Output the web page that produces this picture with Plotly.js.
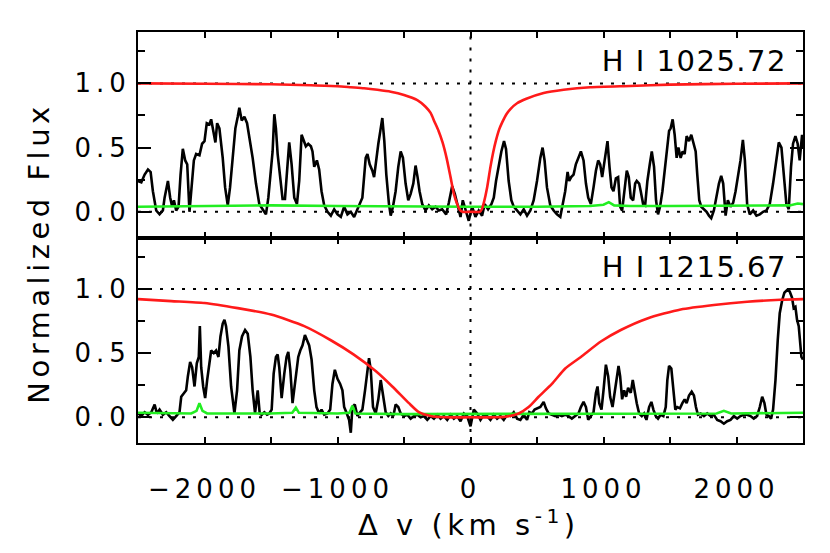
<!DOCTYPE html>
<html>
<head>
<meta charset="utf-8">
<script src="https://cdn.plot.ly/plotly-3.0.1.min.js"></script>
<style>
  body { margin: 0; background: #fff; }
  #chart { width: 830px; height: 553px; }
  .xtick text, .ytick text, .y2tick text { letter-spacing: 5px; }
  g.annotation[data-index="0"] text, g.annotation[data-index="1"] text { letter-spacing: 4.5px; }
  g.annotation[data-index="2"] text, g.annotation[data-index="3"] text { letter-spacing: 1.5px; }
</style>
</head>
<body>
<div id="chart"></div>
<script>
const topVel = [
  -2500, -2475, -2450, -2425, -2405, -2388, -2363, -2338, -2313, -2300,
  -2275, -2258, -2243, -2230, -2213, -2195, -2180, -2163, -2145, -2130,
  -2113, -2095, -2080, -2063, -2038, -2018, -2000, -1983, -1963, -1950,
  -1930, -1918, -1905, -1888, -1863, -1845, -1825, -1808, -1788, -1768,
  -1750, -1738, -1720, -1700, -1680, -1658, -1638, -1613, -1588, -1563,
  -1538, -1520, -1500, -1488, -1475, -1463, -1450, -1430, -1413, -1395,
  -1380, -1363, -1345, -1325, -1305, -1288, -1270, -1255, -1238, -1220,
  -1200, -1188, -1175, -1155, -1138, -1120, -1100, -1075, -1050, -1025,
  -1000, -975, -950, -925, -900, -875, -850,
  -838, -813, -788, -775, -758, -738, -725, -708, -693, -678,
  -663, -648, -633, -613, -600, -583, -563, -543, -525, -508,
  -488, -468, -450, -430, -413, -398, -383, -363, -338, -313,
  -288, -263, -238, -213, -183, -163, -138, -118, -100, -75,
  -58, -38, -13, 12, 37, 62, 87, 107, 132, 157,
  175, 192, 212, 232, 252, 267, 287, 307, 325, 350,
  375, 400, 425, 450, 475, 500, 525, 542, 557, 575,
  600, 625, 650, 675, 692, 712, 730, 742, 757, 775,
  792, 812, 822,
  830, 850, 868, 885, 905, 925, 943, 960, 975, 990,
  1005, 1018, 1030, 1045, 1060, 1075, 1093, 1110, 1125, 1140,
  1155, 1175, 1190, 1205, 1223, 1238, 1250, 1268, 1280, 1298,
  1313, 1330, 1348, 1363, 1380, 1395, 1410, 1425, 1443, 1460,
  1475, 1493, 1505, 1520, 1535, 1550, 1563, 1580, 1595, 1610,
  1625, 1643, 1660, 1675, 1693, 1705, 1720, 1735, 1755, 1775,
  1793, 1810, 1830, 1848, 1868, 1885, 1900, 1918, 1935, 1955,
  1975, 1993, 2010, 2030, 2048, 2063, 2080, 2100, 2125, 2150,
  2175, 2200, 2225, 2250, 2275, 2300, 2318, 2338, 2355, 2375,
  2393, 2410, 2425, 2443, 2460, 2475, 2493, 2500,
];
const topFlux = [
  0.24, 0.23, 0.29, 0.33, 0.31, 0.16, 0.01, -0.02, 0.01, 0.11,
  0.24, 0.11, 0.04, 0.09, 0.01, 0.04, 0.29, 0.49, 0.40, 0.37,
  0.0, 0.22, 0.40, 0.45, 0.44, 0.53, 0.55, 0.69, 0.68, 0.72,
  0.60, 0.54, 0.69, 0.65, 0.42, 0.19, 0.05, 0.19, 0.42, 0.65,
  0.74, 0.81, 0.71, 0.74, 0.69, 0.55, 0.42, 0.22, 0.06, 0.02,
  -0.02, 0.11, 0.32, 0.47, 0.76, 0.65, 0.45, 0.27, 0.10, 0.10,
  0.29, 0.54, 0.37, 0.11, 0.06, 0.24, 0.60, 0.55, 0.51, 0.53,
  0.51, 0.47, 0.35, 0.40, 0.33, 0.16, 0.05, 0.0, -0.03, 0.02,
  -0.02, -0.04, 0.04, -0.02, 0.0, -0.04, 0.02,
  0.04, 0.11, 0.42, 0.45, 0.37, 0.32, 0.27, 0.42, 0.53, 0.63,
  0.73, 0.55, 0.29, 0.06, -0.03, 0.04, 0.16, 0.35, 0.47, 0.42,
  0.22, 0.09, 0.14, 0.22, 0.36, 0.27, 0.16, 0.06, 0.01, 0.05,
  0.02, 0.04, 0.01, 0.02, -0.02, 0.07, 0.20, 0.14, 0.06, -0.04,
  0.09, 0.02, -0.07, 0.04, -0.04, 0.01, -0.03, 0.06, 0.02, 0.06,
  0.11, 0.24, 0.37, 0.47, 0.55, 0.49, 0.24, 0.09, 0.04, 0.01,
  -0.02, 0.02, -0.03, 0.01, 0.09, 0.24, 0.42, 0.50, 0.40, 0.19,
  0.05, 0.01, -0.02, -0.04, 0.06, 0.16, 0.31, 0.24, 0.27, 0.29,
  0.37, 0.42, 0.46,
  0.47, 0.40, 0.22, 0.11, 0.06, 0.19, 0.32, 0.40, 0.37, 0.27,
  0.37, 0.45, 0.55, 0.35, 0.19, 0.16, 0.26, 0.27, 0.04, 0.01,
  0.16, 0.32, 0.27, 0.11, 0.09, 0.22, 0.24, 0.22, 0.16, 0.06,
  0.05, 0.24, 0.37, 0.47, 0.35, 0.09, -0.02, 0.04, 0.16, 0.32,
  0.50, 0.63, 0.65, 0.72, 0.60, 0.42, 0.50, 0.42, 0.47, 0.45,
  0.59, 0.55, 0.60, 0.54, 0.47, 0.29, 0.09, 0.04, 0.02, 0.0,
  -0.03, -0.05, 0.01, 0.11, 0.22, 0.28, 0.22, -0.03, 0.09, 0.04,
  0.07, 0.16, 0.27, 0.40, 0.56, 0.40, 0.06, -0.02, 0.01, -0.03,
  -0.02, 0.0, 0.01, 0.06, 0.22, 0.42, 0.54, 0.50, 0.32, 0.06,
  0.02, 0.35, 0.53, 0.59, 0.53, 0.40, 0.60, 0.50,
];
const topErrVel = [-2500, -2000, -1500, -1000, -500, 0, 500, 900, 1000, 1040, 1080, 1200, 1500, 2000, 2300, 2400, 2460, 2500];
const topErrFlux = [0.04, 0.045, 0.05, 0.045, 0.04, 0.04, 0.04, 0.045, 0.055, 0.075, 0.05, 0.045, 0.045, 0.045, 0.045, 0.05, 0.065, 0.06];
const topModelVel = [
  -2500, -2000, -1500, -1200, -1000, -900, -800, -700, -600, -500,
  -400, -340, -300, -270, -240, -210, -180, -150, -125, -100,
  -80, -60, 0, 70, 85, 100, 125, 150, 170, 190,
  215, 240, 270, 300, 350, 420, 550, 700, 900, 1200,
  1500, 2000, 2500,
];
const topModelFlux = [
  1.0, 0.997, 0.993, 0.985, 0.978, 0.97, 0.962, 0.95, 0.935, 0.91,
  0.87, 0.82, 0.77, 0.70, 0.63, 0.54, 0.42, 0.27, 0.14, 0.06,
  0.015, 0.0, 0.0, 0.0, 0.02, 0.07, 0.19, 0.35, 0.46, 0.55,
  0.64, 0.70, 0.76, 0.80, 0.845, 0.88, 0.925, 0.95, 0.97, 0.98,
  0.99, 0.997, 1.0,
];

// H I 1215.67 (bottom panel)
const botVel = [
  -2500, -2475, -2450, -2425, -2400, -2375, -2358, -2338, -2313, -2288,
  -2263, -2238, -2213, -2188, -2175, -2155, -2138, -2125, -2108, -2093,
  -2075, -2058, -2043, -2035, -2025, -2010, -1995, -1980, -1968, -1950,
  -1930, -1913, -1895, -1880, -1863, -1850, -1838, -1820, -1800, -1775,
  -1755, -1738, -1718, -1695, -1675, -1655, -1638, -1620, -1600, -1585,
  -1570, -1550, -1530, -1513, -1495, -1480, -1463, -1450, -1438, -1420,
  -1400, -1383, -1370, -1355, -1338, -1325, -1310, -1295, -1280, -1263,
  -1245, -1230, -1213, -1195, -1175, -1158, -1138, -1120, -1100, -1075,
  -1055, -1038, -1020, -1000, -980, -963, -950, -930, -913, -900,
  -888, -870, -850,
  -838, -813, -793, -775, -763, -750, -733, -713, -693, -675,
  -658, -638, -618, -600, -580, -563, -543, -525, -500, -475,
  -450, -425, -400, -375, -350, -325, -300, -275, -250, -225,
  -200, -175, -150, -125, -100, -75, -50, -25, 0, 25,
  50, 75, 100, 125, 150, 175, 200, 225, 250, 275,
  300, 325, 350, 375, 400, 425, 442, 462, 482, 500,
  525, 550, 567, 587, 612, 637, 662, 687, 712, 737,
  762, 787, 812,
  830, 850, 868, 885, 905, 925, 943, 955, 968, 985,
  1000, 1018, 1035, 1050, 1068, 1085, 1100, 1113, 1125, 1140,
  1155, 1170, 1185, 1205, 1220, 1235, 1250, 1268, 1288, 1305,
  1323, 1343, 1360, 1375, 1393, 1410, 1430, 1450, 1468, 1480,
  1493, 1510, 1525, 1540, 1555, 1575, 1593, 1610, 1625, 1643,
  1663, 1680, 1695, 1710, 1730, 1755, 1780, 1805, 1830, 1855,
  1880, 1905, 1930, 1955, 1980, 2005, 2030, 2055, 2080, 2105,
  2130, 2155, 2175, 2193, 2210, 2225, 2243, 2260, 2275, 2293,
  2310, 2325, 2343, 2360, 2380, 2400, 2418, 2430, 2443, 2455,
  2468, 2480, 2488, 2500,
];
const botFlux = [
  0.03, 0.01, 0.04, 0.02, 0.04, 0.10, 0.03, 0.06, 0.02, 0.04,
  0.01, -0.02, 0.01, 0.04, 0.16, 0.19, 0.21, 0.32, 0.43, 0.39,
  0.24, 0.42, 0.47, 0.71, 0.39, 0.24, 0.15, 0.29, 0.39, 0.52,
  0.50, 0.52, 0.47, 0.63, 0.73, 0.76, 0.71, 0.55, 0.24, 0.03,
  0.21, 0.52, 0.63, 0.68, 0.65, 0.47, 0.21, 0.03, 0.21, 0.03,
  0.02, 0.04, 0.02, 0.03, 0.06, 0.34, 0.47, 0.49, 0.39, 0.15,
  0.34, 0.47, 0.51, 0.37, 0.11, 0.21, 0.34, 0.47, 0.52, 0.56,
  0.64, 0.60, 0.56, 0.45, 0.21, 0.08, 0.03, 0.06, 0.02, 0.03,
  0.06, 0.26, 0.37, 0.30, 0.26, 0.21, 0.08, 0.03, -0.02, -0.12,
  0.08, 0.10, 0.01,
  0.03, 0.06, 0.21, 0.34, 0.46, 0.37, 0.08, 0.03, 0.14, 0.29,
  0.19, 0.04, 0.01, 0.03, 0.01, 0.10, 0.08, 0.03, 0.01, 0.02,
  -0.01, 0.01, 0.02, 0.0, 0.01, -0.02, 0.01, -0.01, 0.02, -0.01,
  0.01, -0.02, 0.02, -0.01, 0.01, -0.03, 0.03, 0.01, -0.07, 0.06,
  0.03, -0.02, 0.02, 0.01, -0.02, 0.02, -0.01, 0.01, -0.02, 0.02,
  0.01, 0.04, -0.01, -0.02, 0.02, -0.02, 0.04, 0.03, 0.06, 0.07,
  0.08, 0.12, 0.07, 0.03, 0.02, 0.01, 0.02, 0.01, 0.02, 0.01,
  -0.01, 0.01, 0.03,
  0.08, 0.12, 0.08, -0.02, 0.01, 0.04, 0.19, 0.24, 0.11, 0.06,
  0.21, 0.41, 0.32, 0.16, 0.08, 0.21, 0.33, 0.40, 0.32, 0.14,
  0.21, 0.16, 0.23, 0.19, 0.29, 0.19, 0.11, 0.03, 0.01, 0.03,
  -0.02, 0.08, 0.12, 0.06, 0.01, -0.01, 0.02, 0.01, 0.08, 0.29,
  0.40, 0.38, 0.21, 0.06, 0.08, 0.07, 0.11, 0.14, 0.11, 0.17,
  0.20, 0.17, 0.08, 0.02, 0.03, 0.01, 0.03, 0.01, 0.02, -0.02,
  -0.03, -0.05, -0.03, -0.02, 0.01, -0.01, 0.01, 0.02, 0.02, 0.01,
  -0.01, 0.01, 0.08, 0.16, 0.11, 0.02, 0.01, -0.01, 0.06, 0.29,
  0.60, 0.81, 0.91, 0.97, 0.99, 0.98, 0.93, 0.85, 0.86, 0.76,
  0.71, 0.58, 0.47, 0.45,
];
const botErrVel = [-2500, -2100, -2060, -2038, -2015, -1980, -1500, -1340, -1313, -1290, -1000, -910, -888, -865, -500, 0, 500, 1000, 1850, 1905, 1960, 2500];
const botErrFlux = [0.035, 0.03, 0.05, 0.11, 0.05, 0.03, 0.03, 0.035, 0.075, 0.035, 0.03, 0.035, 0.09, 0.03, 0.025, 0.025, 0.025, 0.03, 0.03, 0.05, 0.03, 0.035];
const botModelVel = [
  -2500, -2250, -2000, -1750, -1500, -1250, -1050, -880, -713,
  -588, -463, -388, -300, -200, 0, 200, 262, 362, 437,
  512, 612, 712, 830, 980, 1130, 1330, 1580, 1830, 2080,
  2330, 2500,
];
const botModelFlux = [
  0.92, 0.905, 0.89, 0.85, 0.80, 0.71, 0.60, 0.49, 0.36,
  0.24, 0.11, 0.04, 0.01, 0.0, 0.0, 0.0, 0.005, 0.03, 0.08,
  0.16, 0.26, 0.38, 0.47, 0.59, 0.68, 0.77, 0.84, 0.875, 0.90,
  0.915, 0.92,
];

const refLevels = [0, 1];
const refVelocity = 0;
const velRange = [-2500, 2500];
const fluxRange = [-0.2, 1.4];
const panelLabels = ["H I 1025.72", "H I 1215.67"];

const dataColor = "#000000";
const errColor = "#22ee22";
const modelColor = "#ff1a1a";
const fontFamily = "DejaVu Sans, sans-serif";

function panelTraces(vel, flux, errVel, errFlux, modelVel, modelFlux, xa, ya) {
  return [
    {
      x: vel, y: flux, xaxis: xa, yaxis: ya,
      type: "scatter", mode: "lines",
      line: { color: dataColor, width: 2.6 },
      hoverinfo: "skip",
    },
    {
      x: errVel, y: errFlux, xaxis: xa, yaxis: ya,
      type: "scatter", mode: "lines",
      line: { color: errColor, width: 2.6 },
      hoverinfo: "skip",
    },
    {
      x: modelVel, y: modelFlux, xaxis: xa, yaxis: ya,
      type: "scatter", mode: "lines",
      line: { color: modelColor, width: 2.6, shape: "spline", smoothing: 0.6 },
      hoverinfo: "skip",
    },
  ];
}

const traces = [
  ...panelTraces(topVel, topFlux, topErrVel, topErrFlux, topModelVel, topModelFlux, "x2", "y2"),
  ...panelTraces(botVel, botFlux, botErrVel, botErrFlux, botModelVel, botModelFlux, "x", "y"),
];

const dotted = { color: "#000", width: 2, dash: "3px,8px" };
const shapes = [];
for (const [xr, yr] of [["x", "y"], ["x2", "y2"]]) {
  for (const lvl of refLevels) {
    shapes.push({ type: "line", xref: xr, yref: yr, x0: velRange[0], x1: velRange[1], y0: lvl, y1: lvl, line: dotted, layer: "below" });
  }
  shapes.push({ type: "line", xref: xr, yref: yr, x0: refVelocity, x1: refVelocity, y0: fluxRange[0], y1: fluxRange[1], line: dotted, layer: "below" });
}

const xBase = {
  range: velRange,
  tick0: 0,
  dtick: 1000,
  ticks: "inside",
  ticklen: 6,
  tickwidth: 2,
  tickcolor: "#000",
  minor: { dtick: 500, ticks: "inside", ticklen: 6, tickwidth: 2, tickcolor: "#000" },
  showline: true,
  linecolor: "#000",
  linewidth: 2,
  mirror: "ticks",
  showgrid: false,
  zeroline: false,
  tickfont: { family: fontFamily, size: 26, color: "#000" },
};

const yBase = {
  range: fluxRange,
  tick0: 0,
  dtick: 0.5,
  tickformat: ".1f",
  ticks: "inside",
  ticklen: 13,
  tickwidth: 2,
  tickcolor: "#000",
  minor: { dtick: 0.25, ticks: "inside", ticklen: 7, tickwidth: 2, tickcolor: "#000" },
  showline: true,
  linecolor: "#000",
  linewidth: 2,
  mirror: "ticks",
  showgrid: false,
  zeroline: false,
  ticklabelstandoff: 0,
  tickfont: { family: fontFamily, size: 26, color: "#000" },
};

const layout = {
  width: 830,
  height: 553,
  paper_bgcolor: "#fff",
  plot_bgcolor: "#fff",
  showlegend: false,
  margin: { l: 138, r: 27, t: 32, b: 110 },
  font: { family: fontFamily, color: "#000" },
  xaxis: { ...xBase, anchor: "y", domain: [0, 1], ticklabelstandoff: 22 },
  xaxis2: { ...xBase, anchor: "y2", domain: [0, 1], matches: "x", showticklabels: false },
  yaxis: { ...yBase, anchor: "x", domain: [0, 0.5] },
  yaxis2: { ...yBase, anchor: "x2", domain: [0.5, 1] },
  shapes,
  annotations: [
    {
      text: "Normalized Flux",
      xref: "paper", yref: "paper", x: -0.149, y: 0.462,
      textangle: -90, showarrow: false,
      xanchor: "center", yanchor: "middle",
      font: { family: fontFamily, size: 29, color: "#000" },
    },
    {
      text: "Δ v (km s<sup>-1</sup>)",
      xref: "paper", yref: "paper", x: 0.497, y: -0.195,
      showarrow: false,
      xanchor: "center", yanchor: "middle",
      font: { family: fontFamily, size: 29, color: "#000" },
    },
    {
      text: panelLabels[0],
      xref: "paper", yref: "paper", x: 0.967, y: 0.929,
      showarrow: false, xanchor: "right", yanchor: "middle",
      font: { family: fontFamily, size: 29, color: "#000" },
    },
    {
      text: panelLabels[1],
      xref: "paper", yref: "paper", x: 0.967, y: 0.429,
      showarrow: false, xanchor: "right", yanchor: "middle",
      font: { family: fontFamily, size: 29, color: "#000" },
    },
  ],
};

Plotly.newPlot("chart", traces, layout, { displayModeBar: false, staticPlot: true });
</script>
</body>
</html>
